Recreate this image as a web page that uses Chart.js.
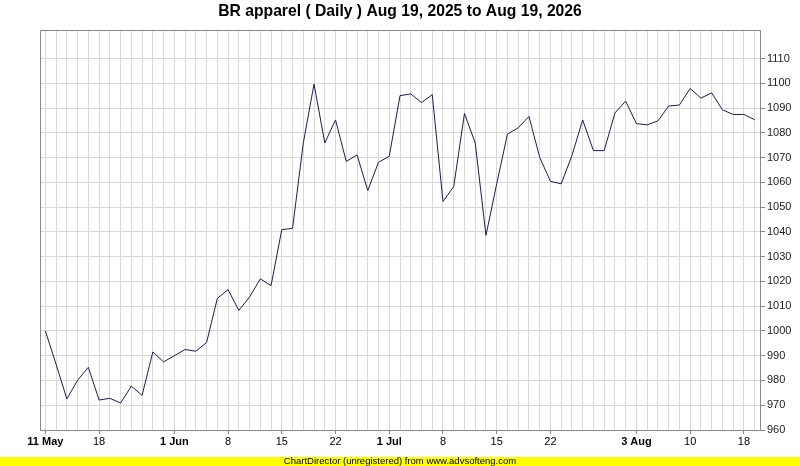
<!DOCTYPE html>
<html>
<head>
<meta charset="utf-8">
<script src="https://cdn.jsdelivr.net/npm/chart.js@4.4.1/dist/chart.umd.min.js"></script>
<style>
html,body{margin:0;padding:0;background:#fff;}
canvas{display:block;}
</style>
</head>
<body>
<canvas id="c" width="800" height="466"></canvas>
<script>
const titleText = "BR apparel ( Daily ) Aug 19, 2025 to Aug 19, 2026";
const footerText = "ChartDirector (unregistered) from www.advsofteng.com";

const values = [
  1000.0, 986.5, 972.5, 980.1, 985.3, 972.1, 972.8, 970.9, 977.7, 974.0,
  991.5, 987.5, 990.0, 992.5, 991.8, 995.3, 1013.1, 1016.7, 1008.3, 1013.7,
  1021.0, 1018.3, 1040.9, 1041.4, 1075.8, 1099.7, 1075.9, 1085.2, 1068.4, 1071.1,
  1056.7, 1068.1, 1070.5, 1095.0, 1095.7, 1092.2, 1095.4, 1052.3, 1058.3, 1087.8,
  1075.9, 1038.6, 1059.4, 1079.5, 1082.0, 1086.6, 1070.1, 1060.4, 1059.4, 1070.8,
  1085.2, 1072.8, 1072.8, 1088.0, 1092.8, 1083.7, 1083.2, 1084.8, 1090.8, 1091.2,
  1097.9, 1094.0, 1096.1, 1089.3, 1087.4, 1087.4, 1085.3
];

const tickIndex  = [0, 5, 12, 17, 22, 27, 32, 37, 42, 47, 55, 60, 65];
const tickLabels = ["11 May", "18", "1 Jun", "8", "15", "22", "1 Jul", "8", "15", "22", "3 Aug", "10", "18"];
const boldLabels = ["11 May", "1 Jun", "1 Jul", "3 Aug"];

const yMin = 960, yMax = 1121.5, yStep = 10, yTopTick = 1110;

const categories = values.map((v, i) => {
  const k = tickIndex.indexOf(i);
  return k >= 0 ? tickLabels[k] : "";
});

const frame = {
  id: 'frame',
  beforeDraw(chart) {
    const ctx = chart.ctx;
    ctx.save();
    ctx.fillStyle = '#ffffff';
    ctx.fillRect(0, 0, chart.width, chart.height);
    ctx.restore();
  },
  afterDraw(chart) {
    const ctx = chart.ctx;
    const a = chart.chartArea;
    ctx.save();
    ctx.strokeStyle = '#888888';
    ctx.lineWidth = 1;
    const l = Math.round(a.left) + 0.5, t = Math.round(a.top) + 0.5;
    const r = Math.round(a.right) + 0.5, b = Math.round(a.bottom) + 0.5;
    ctx.beginPath();
    ctx.moveTo(l, b); ctx.lineTo(l, t); ctx.lineTo(r, t);
    ctx.stroke();
    // title
    ctx.fillStyle = '#000000';
    ctx.font = 'bold 15.7px "Liberation Sans", Arial, sans-serif';
    ctx.textAlign = 'center';
    ctx.textBaseline = 'middle';
    ctx.fillText(titleText, 400, 12);
    // footer
    ctx.fillStyle = '#ffff00';
    ctx.fillRect(0, 457, chart.width, chart.height - 457);
    ctx.fillStyle = '#000000';
    ctx.font = '9.5px "Liberation Sans", Arial, sans-serif';
    ctx.fillText(footerText, 400, 461.5);
    ctx.restore();
  }
};

new Chart(document.getElementById('c'), {
  type: 'line',
  data: {
    labels: categories,
    datasets: [{
      data: values,
      borderColor: '#1c1c5c',
      borderWidth: 1,
      pointRadius: 0,
      tension: 0,
      fill: false
    }]
  },
  options: {
    responsive: false,
    animation: false,
    devicePixelRatio: 1,
    layout: { padding: { left: 40, top: 30, right: 0, bottom: 0 } },
    plugins: {
      legend: { display: false },
      tooltip: { enabled: false },
      title: { display: false }
    },
    scales: {
      x: {
        type: 'category',
        offset: true,
        afterFit(s) { s.height = 36; },
        grid: {
          offset: false,
          color: '#d9d9d9',
          lineWidth: 1,
          drawTicks: true,
          tickLength: 4,
          tickColor: (c) => (categories[c.index] ? '#888888' : 'rgba(0,0,0,0)')
        },
        border: { color: '#888888', width: 1 },
        ticks: {
          autoSkip: false,
          maxRotation: 0,
          minRotation: 0,
          padding: 1,
          color: '#000000',
          callback: (v, i) => categories[i],
          font: (c) => ({
            family: '"Liberation Sans", Arial, sans-serif',
            size: 11,
            weight: (c.tick && boldLabels.includes(c.tick.label)) ? 'bold' : 'normal'
          })
        }
      },
      y: {
        position: 'right',
        min: yMin,
        max: yMax,
        afterFit(s) { s.width = 40; },
        afterBuildTicks(s) {
          s.ticks = s.ticks.filter(t => Math.abs(t.value % yStep) < 1e-6 && t.value <= yTopTick);
        },
        grid: {
          color: '#d9d9d9',
          lineWidth: 1,
          drawTicks: true,
          tickLength: 5,
          tickColor: '#888888'
        },
        border: { color: '#888888', width: 1 },
        ticks: {
          stepSize: yStep,
          padding: 2,
          color: '#222222',
          callback: (v) => String(v),
          font: { family: '"Liberation Sans", Arial, sans-serif', size: 11 }
        }
      }
    }
  },
  plugins: [frame]
});
</script>
</body>
</html>
